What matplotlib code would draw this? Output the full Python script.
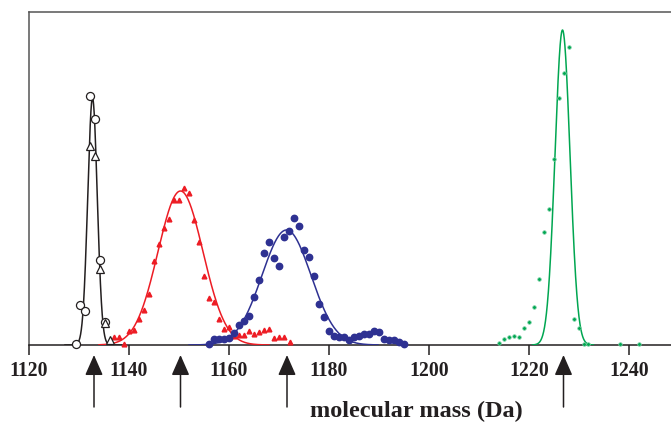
"""
Mass spectra peaks with Gaussian fits, four species, arrows marking expected masses.
"""

import numpy as np
import matplotlib.pyplot as plt

# ---- data ----
# black species: two replicate measurements (open circles / open triangles)
black_circ_x = [1129.4, 1130.2, 1131.2, 1132.2, 1133.2, 1134.2, 1135.3]
black_circ_y = [1.3, 39.7, 33.7, 249.0, 225.7, 84.7, 23.0]
black_tri_x = [1132.2, 1133.3, 1134.2, 1135.3, 1136.3]
black_tri_y = [199.3, 188.7, 76.3, 22.3, 5.0]

red_x = [1137.1, 1138.1, 1139.0, 1140.1, 1141.0, 1142.0, 1143.0, 1144.1, 1145.1,
         1146.1, 1147.1, 1148.1, 1149.1, 1150.1, 1151.1, 1152.1, 1153.1, 1154.1,
         1155.1, 1156.1, 1157.1, 1158.1, 1159.1, 1160.1, 1161.1, 1162.0, 1163.0,
         1164.1, 1165.1, 1166.1, 1167.1, 1168.1, 1169.1, 1170.1, 1171.1, 1172.2]
red_y = [7.7, 8.3, 1.3, 14.0, 15.0, 26.3, 35.3, 50.7, 84.3,
         100.7, 116.7, 126.3, 145.0, 145.0, 157.0, 152.3, 125.0, 103.3,
         69.0, 47.3, 42.7, 26.3, 16.5, 17.7, 9.3, 9.7, 9.7,
         14.3, 11.0, 13.0, 15.3, 16.3, 7.3, 8.0, 8.3, 2.7]

blue_x = [1156.1, 1157.0, 1158.0, 1159.0, 1160.0, 1161.0, 1162.0, 1163.0, 1164.0,
          1165.1, 1166.1, 1167.1, 1168.1, 1169.1, 1170.1, 1171.1, 1172.1, 1173.1,
          1174.1, 1175.1, 1176.1, 1177.1, 1178.1, 1179.1, 1180.1, 1181.1, 1182.1,
          1183.1, 1184.1, 1185.1, 1186.1, 1187.1, 1188.1, 1189.1, 1190.1, 1191.1,
          1192.1, 1193.1, 1194.1, 1194.9]
blue_y = [1.3, 5.7, 5.7, 6.0, 7.3, 12.3, 20.0, 24.3, 29.3,
          47.7, 64.7, 92.3, 103.3, 87.0, 79.0, 108.3, 113.7, 127.3,
          119.0, 95.0, 88.3, 69.0, 40.7, 27.7, 14.3, 9.0, 7.7,
          7.7, 4.7, 7.7, 9.0, 10.7, 10.7, 14.0, 12.7, 6.0,
          5.3, 4.7, 2.7, 0.7]

green_x = [1214.1, 1214.9, 1215.9, 1217.1, 1218.1, 1219.0, 1219.9, 1220.9, 1221.9,
           1222.9, 1223.9, 1225.1, 1226.0, 1227.1, 1228.1, 1229.0, 1230.0, 1231.1,
           1231.8, 1238.2, 1241.9]
green_y = [1.7, 6.3, 7.7, 9.3, 8.3, 16.7, 22.7, 38.0, 65.7,
           113.0, 135.7, 186.3, 247.0, 271.7, 298.3, 25.7, 17.3, 0.7,
           0.7, 0.7, 0.7]

# Gaussian fit parameters (centre, sigma, height) and drawn range of each fit
fit_center = [1132.7, 1150.3, 1171.5, 1226.7]
fit_sigma = [0.95, 4.5, 4.9, 1.5]
fit_height = [247, 154, 115, 315]
fit_lo = [1127.2, 1134.0, 1152.0, 1220.7]
fit_hi = [1138.5, 1168.0, 1189.8, 1232.9]

# expected masses (arrows)
arrow_x = [1133.0, 1150.3, 1171.6, 1226.9]

xticks = [1120, 1140, 1160, 1180, 1200, 1220, 1240]

BLACK = "#231f20"
RED = "#ed1c24"
BLUE = "#2e3192"
GREEN = "#00a651"
fit_colors = [BLACK, RED, BLUE, GREEN]


def main():
    plt.rcParams["font.family"] = ["Liberation Serif", "DejaVu Serif"]
    fig = plt.figure(figsize=(6.71, 4.22), dpi=100)
    # axes box in pixels: x 29..671, y 12..345
    ax = fig.add_axes([29 / 671, (422 - 345) / 422, 642 / 671, 333 / 422])

    # fitted curves
    for c, s, h, lo, hi, col in zip(fit_center, fit_sigma, fit_height,
                                    fit_lo, fit_hi, fit_colors):
        xs = np.linspace(lo, hi, 400)
        ax.plot(xs, h * np.exp(-0.5 * ((xs - c) / s) ** 2), color=col,
                lw=1.1, zorder=3)

    ax.plot(red_x, red_y, ls="none", marker="^", ms=3.4, color=RED,
            mec=RED, zorder=4, clip_on=False)
    ax.plot(blue_x, blue_y, ls="none", marker="o", ms=4.6, color=BLUE,
            mec=BLUE, zorder=4, clip_on=False)
    ax.plot(green_x, green_y, ls="none", marker="o", ms=2.6, color=GREEN,
            mec="#7fd3a8", mew=0.5, zorder=4, clip_on=False)
    ax.plot(black_circ_x, black_circ_y, ls="none", marker="o", ms=5.8,
            mfc="white", mec=BLACK, mew=0.9, zorder=5, clip_on=False)
    ax.plot(black_tri_x, black_tri_y, ls="none", marker="^", ms=5.8,
            mfc="white", mec=BLACK, mew=0.9, zorder=5, clip_on=False)

    ax.set_xlim(1120, 1248.4)
    ax.set_ylim(0, 333)

    ax.set_xticks(xticks)
    ax.set_xticklabels([str(t) for t in xticks], fontsize=14.2,
                       fontweight="bold", color=BLACK)
    ax.tick_params(axis="x", direction="out", length=7, width=1.1,
                   color=BLACK, pad=4.5)
    ax.set_yticks([])

    ax.spines["right"].set_visible(False)
    ax.spines["top"].set_color("#555555")
    ax.spines["left"].set_color("#555555")
    ax.spines["bottom"].set_color(BLACK)
    for sp in ["top", "left", "bottom"]:
        ax.spines[sp].set_linewidth(1.1)

    # arrows under the axis pointing at expected masses
    for xa in arrow_x:
        ax.annotate("", xy=(xa, -10 / 333), xytext=(xa, -62 / 333),
                    xycoords=("data", "axes fraction"),
                    textcoords=("data", "axes fraction"),
                    annotation_clip=False,
                    arrowprops=dict(arrowstyle="-|>,head_length=1.25,head_width=0.55",
                                    mutation_scale=10, color=BLACK, lw=1.1,
                                    shrinkA=0, shrinkB=0))

    fig.text(416.5 / 671, (422 - 417) / 422, "molecular mass (Da)",
             ha="center", va="baseline", fontsize=17.5, fontweight="bold",
             color=BLACK)

    fig.savefig("out.png", dpi=100)


if __name__ == "__main__":
    main()
